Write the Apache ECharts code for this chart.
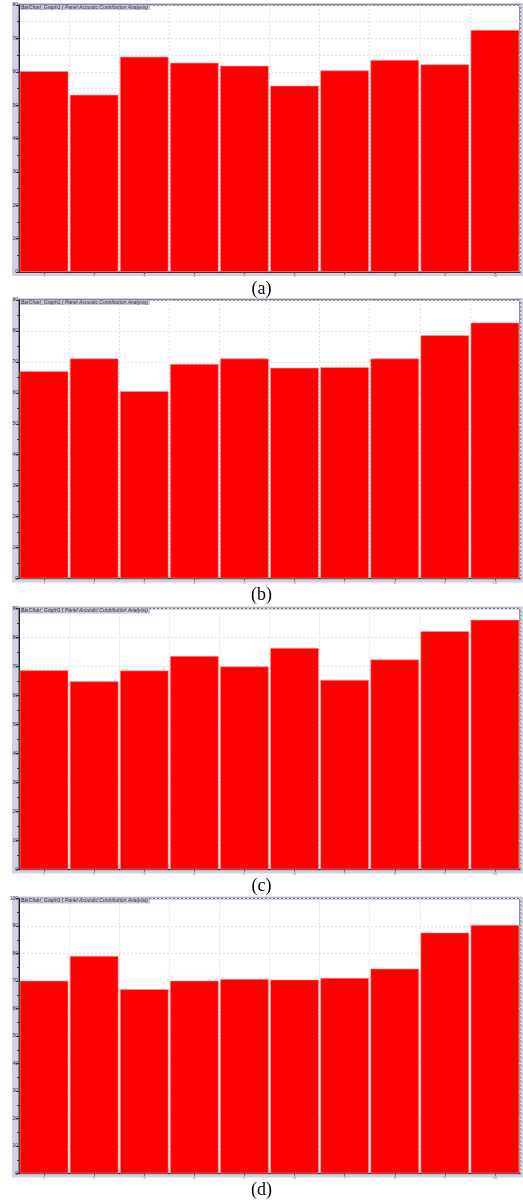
<!DOCTYPE html>
<html>
<head>
<meta charset="utf-8">
<script src="https://cdn.jsdelivr.net/npm/echarts@6/dist/echarts.min.js"></script>
<style>
html,body{margin:0;padding:0;background:#fff;}
#c{width:523px;height:1201px;}
</style>
</head>
<body>
<div id="c"></div>
<script>
const categories = ['1','2','3','4','5','6','7','8','9','10'];
const valuesA = [60.2, 53.1, 64.5, 62.7, 61.8, 55.8, 60.4, 63.5, 62.2, 72.5];
const valuesB = [67.0, 71.1, 60.5, 69.3, 71.1, 68.1, 68.3, 71.1, 78.6, 82.7];
const valuesC = [68.7, 64.9, 68.6, 73.6, 70.0, 76.4, 65.4, 72.4, 82.2, 86.1];
const valuesD = [70.1, 79.1, 67.0, 70.1, 70.7, 70.5, 71.1, 74.5, 87.6, 90.4];
const yMaxes = [80, 90, 90, 100];
const yInterval = 10;
const panelLabels = ['(a)', '(b)', '(c)', '(d)'];
const chartTitle = 'BarChart_Graph1 ( Panel Acoustic Contribution Analysis)';

const seriesValues = [valuesA, valuesB, valuesC, valuesD];
// layout: [top, height] of each plot area
const layout = [[5, 267], [300, 278.5], [608.5, 261], [898.5, 275]];
const minorGrid = [true, false, false, false];
const plotLeft = 19, plotRight = 3;

const chart = echarts.init(document.getElementById('c'), null, {renderer: 'canvas'});

const gridLine = {color: '#e0e0e0', type: [2, 2], width: 1};
const grids = [], xAxes = [], yAxes = [], series = [], titles = [], graphics = [];
layout.forEach(([top, h], i) => {
  graphics.push({
    type: 'rect', z: -10,
    shape: {x: 12, y: top - 2, width: 511, height: h + 6},
    style: {fill: '#d0d0e4'}
  });
  grids.push({
    left: plotLeft, right: plotRight, top: top, height: h,
    show: true, backgroundColor: '#ffffff', borderColor: '#6e6e7c', borderWidth: 1.5
  });
  xAxes.push({
    type: 'category', gridIndex: i, data: categories,
    axisLine: {show: true, lineStyle: {color: '#222', width: 1}},
    axisTick: {show: true, alignWithLabel: true, length: 2, lineStyle: {color: '#444'}},
    axisLabel: {show: true, fontSize: 4, color: '#888', margin: 2},
    splitLine: {show: true, lineStyle: gridLine}
  });
  yAxes.push({
    type: 'value', gridIndex: i, min: 0, max: yMaxes[i], interval: yInterval,
    axisLine: {show: true, lineStyle: {color: '#222', width: 1}},
    axisTick: {show: true, length: 3, lineStyle: {color: '#333'}},
    minorTick: {show: true, splitNumber: 2, length: 2, lineStyle: {color: '#333'}},
    minorSplitLine: {show: minorGrid[i], lineStyle: gridLine},
    axisLabel: {fontSize: 5, color: '#333', margin: 1, fontFamily: 'Liberation Sans'},
    splitLine: {show: true, lineStyle: gridLine}
  });
  series.push({
    type: 'bar', xAxisIndex: i, yAxisIndex: i, data: seriesValues[i],
    barCategoryGap: '3%',
    itemStyle: {color: '#ff0000', borderColor: '#ff9a9a', borderWidth: 0.6},
    emphasis: {disabled: true}
  });
  titles.push({
    text: chartTitle, left: plotLeft + 1, top: top,
    padding: [0, 2, 0, 1], backgroundColor: '#c6c6dc',
    textStyle: {fontSize: 5, fontStyle: 'italic', fontWeight: 'normal', color: '#333', fontFamily: 'Liberation Sans'}
  });
  titles.push({
    text: panelLabels[i], left: 'center', top: top + h + 3,
    textStyle: {fontSize: 18, fontWeight: 'normal', color: '#000', fontFamily: 'Liberation Serif'}
  });
});

chart.setOption({
  animation: false,
  backgroundColor: '#ffffff',
  graphic: graphics,
  title: titles,
  grid: grids,
  xAxis: xAxes,
  yAxis: yAxes,
  series: series
});
</script>
</body>
</html>
